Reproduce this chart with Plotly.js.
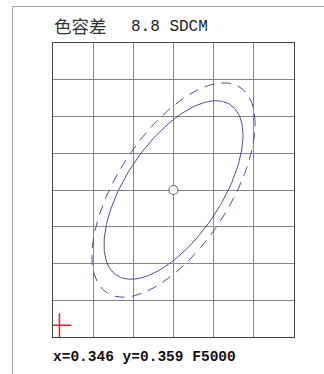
<!DOCTYPE html>
<html>
<head>
<meta charset="utf-8">
<script src="https://cdn.plot.ly/plotly-3.0.1.min.js"></script>
<style>
  html, body { margin: 0; padding: 0; background: #fff; overflow: hidden; }
  #frame { position: absolute; left: 12px; top: 6px; width: 400px; height: 400px;
           border-left: 1.5px solid #a8a8a8; border-top: 1.5px solid #a8a8a8; }
  #chart { position: absolute; left: 0; top: 0; width: 324px; height: 374px; }
</style>
</head>
<body>
<div id="frame"></div>
<div id="chart"></div>
<script>
// ---- data ----
const titleLabel = "色容差";
const sdcmValue = 8.8;
const sdcmUnit = "SDCM";
const centerX = [0.346];
const centerY = [0.359];
const standardName = "F5000";

// grid (chromaticity) ranges
const xRange = [0.331, 0.361];
const yRange = [0.339, 0.379];
const gridStep = 0.005;

// ellipses: half extent in x, half extent in y, y offset at the right-most point
const solidEllipse = { halfWidth: 0.00865, halfHeight: 0.01215, yAtRight: 0.00745 };
const dashedEllipse = { halfWidth: 0.01016, halfHeight: 0.01458, yAtRight: 0.00899 };

// measured point (red cross)
const crossX = [0.3318];
const crossY = [0.3406];

// ---- build ellipse outlines from their measured extents ----
function ellipsePoints(e, cx, cy, n) {
  const H = Math.sqrt(e.halfHeight * e.halfHeight - e.yAtRight * e.yAtRight);
  const xs = [], ys = [];
  for (let i = 0; i <= n; i++) {
    const t = 2 * Math.PI * i / n;
    xs.push(cx + e.halfWidth * Math.cos(t));
    ys.push(cy + e.yAtRight * Math.cos(t) + H * Math.sin(t));
  }
  return { x: xs, y: ys };
}
const sE = ellipsePoints(solidEllipse, centerX[0], centerY[0], 240);
const dE = ellipsePoints(dashedEllipse, centerX[0], centerY[0], 240);

const lineColor = '#4c4ca0';
const traces = [
  { x: dE.x, y: dE.y, type: 'scatter', mode: 'lines', hoverinfo: 'skip',
    line: { color: lineColor, width: 1, dash: '10px,7px' } },
  { x: sE.x, y: sE.y, type: 'scatter', mode: 'lines', hoverinfo: 'skip',
    line: { color: lineColor, width: 1 } },
  { x: centerX, y: centerY, type: 'scatter', mode: 'markers', hoverinfo: 'skip',
    marker: { symbol: 'circle', size: 9, color: '#ffffff', line: { color: '#6b6b99', width: 1.2 } } },
  { x: crossX, y: crossY, type: 'scatter', mode: 'markers', hoverinfo: 'skip',
    marker: { symbol: 'cross-thin', size: 17, color: '#e02020', line: { color: '#e02020', width: 1.5 } } }
];

const axisCommon = {
  dtick: gridStep, showgrid: true, gridcolor: '#858585', gridwidth: 1,
  zeroline: false, showticklabels: false, ticks: '',
  showline: true, linecolor: '#444444', linewidth: 1, mirror: true, fixedrange: true
};

const monoFont = 'Liberation Mono, Courier New, monospace';
const layout = {
  width: 324, height: 374,
  margin: { l: 53, r: 30, t: 43, b: 37, pad: 0 },
  paper_bgcolor: 'rgba(0,0,0,0)', plot_bgcolor: '#ffffff',
  showlegend: false,
  xaxis: Object.assign({ range: xRange, tick0: xRange[0] }, axisCommon),
  yaxis: Object.assign({ range: yRange, tick0: yRange[0] }, axisCommon),
  annotations: [
    { xref: 'paper', yref: 'paper', x: -0.006, y: 1.058, xanchor: 'left', yanchor: 'middle',
      showarrow: false, text: titleLabel,
      font: { family: 'Noto Sans CJK SC', size: 17.5, color: '#333' } },
    { xref: 'paper', yref: 'paper', x: 0.316, y: 1.054, xanchor: 'left', yanchor: 'middle',
      showarrow: false, text: sdcmValue.toFixed(1) + ' ' + sdcmUnit,
      font: { family: monoFont, size: 16, color: '#222' } },
    { xref: 'paper', yref: 'paper', x: -0.01, y: -0.068, xanchor: 'left', yanchor: 'middle',
      showarrow: false,
      text: 'x=' + centerX[0].toFixed(3) + ' y=' + centerY[0].toFixed(3) + ' ' + standardName,
      font: { family: monoFont, size: 14.5, color: '#111', weight: 'bold' } }
  ]
};

Plotly.newPlot('chart', traces, layout, { displayModeBar: false, staticPlot: true });
</script>
</body>
</html>
